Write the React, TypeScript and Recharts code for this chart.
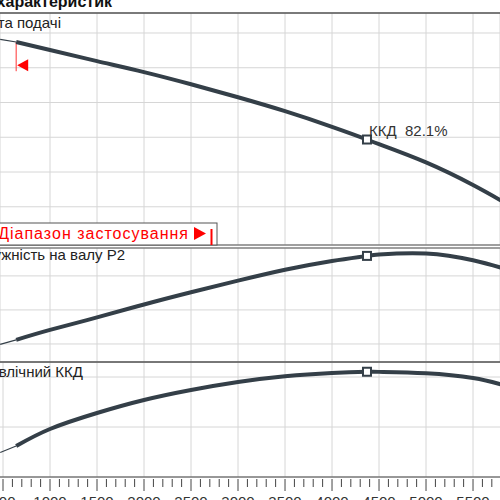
import { LineChart, Line, XAxis, YAxis, CartesianGrid, ReferenceLine, ReferenceDot } from 'recharts';

// flow rate (x)
const flow = [470, 640, 1000, 1500, 2000, 2500, 3000, 3500, 4000, 4372, 4500, 5000, 5500, 5800];
const head = [29.63, 29.48, 29.02, 28.38, 27.75, 27.05, 26.3, 25.5, 24.6, 23.87, 23.6, 22.55, 21.25, 20.35];
const power = [34.95, 35.6, 37.06, 38.9, 40.8, 42.6, 44.3, 45.9, 47.2, 47.94, 48.15, 48.3, 47.3, 46.2];
const efficiency = [49.8, 52.4, 59.2, 65.6, 70.8, 74.8, 78.0, 80.3, 81.6, 82.1, 82.05, 81.5, 79.6, 77.0];

const minFlow = 640;
const bepFlow = 4372;
const bepHead = 23.87;
const bepPower = 47.94;
const bepEff = 82.1;

const flowDomain = [468, 5787];
const majorTicks = [500, 1000, 1500, 2000, 2500, 3000, 3500, 4000, 4500, 5000, 5500];
const minorTicks = Array.from({ length: 53 }, (_, i) => 500 + i * 100);

const headDomain = [17.8, 31.15];
const headTicks = [18, 20, 22, 24, 26, 28, 30];
const powerDomain = [32.35, 49.1];
const powerTicks = [35, 40, 45];
const effDomain = [40, 86];
const effTicks = [60, 80];

const LINE = '#343f48';
const GRID = '#d6d6d6';
const BORDER = '#555';
const FONT = '"Liberation Sans", Arial, sans-serif';

const rows = flow.map((q, i) => ({
  q,
  headThin: q <= minFlow ? head[i] : null,
  head: q >= minFlow ? head[i] : null,
  powerThin: q <= minFlow ? power[i] : null,
  power: q >= minFlow ? power[i] : null,
  effThin: q <= minFlow ? efficiency[i] : null,
  eff: q >= minFlow ? efficiency[i] : null,
}));

const BepMark = (props: any) => (
  <rect x={props.cx - 4} y={props.cy - 4} width={8} height={8} fill="#fff" stroke={LINE} strokeWidth={2} />
);

const BepMarkLabel = (props: any) => (
  <g>
    <rect x={props.cx - 4} y={props.cy - 4} width={8} height={8} fill="#fff" stroke={LINE} strokeWidth={2} />
    <text x={props.cx + 2} y={props.cy - 4} fontSize={15} fill="#333" fontFamily={FONT}>ККД</text>
    <text x={props.cx + 38} y={props.cy - 4} fontSize={15} fill="#333" fontFamily={FONT}>{bepEff}%</text>
  </g>
);

const MinArrow = (props: any) => (
  <polygon points={`${props.cx + 1},${props.cy} ${props.cx + 12},${props.cy - 6} ${props.cx + 12},${props.cy + 6}`} fill="#ff0000" />
);

function FlowTick({ x, y, payload }: any) {
  const v = payload.value;
  const major = v % 500 === 0;
  return (
    <g>
      <line x1={x} x2={x} y1={y} y2={y + (major ? 12 : 8)} stroke="#444" />
      {major && (
        <text x={x} y={y + 28} textAnchor="middle" fontSize={15} fill="#333" fontFamily={FONT}>{v}</text>
      )}
    </g>
  );
}

const box = (top: number): React.CSSProperties => ({ position: 'absolute', left: 0, top });

export default function App() {
  return (
    <div style={{ position: 'absolute', left: 0, top: 0, width: 500, height: 500, overflow: 'hidden', background: '#fff', fontFamily: FONT }}>
      <div style={box(0)}>
        <LineChart width={500} height={246} data={rows} margin={{ top: 13, right: 0, left: 0, bottom: 1 }}>
          <CartesianGrid stroke={GRID} />
          <XAxis dataKey="q" type="number" domain={flowDomain} ticks={majorTicks} allowDataOverflow hide />
          <YAxis domain={headDomain} ticks={headTicks} allowDataOverflow hide />
          <ReferenceLine y={headDomain[1]} stroke={BORDER} strokeWidth={1.5} />
          <ReferenceLine y={headDomain[0]} stroke={BORDER} strokeWidth={1.2} />
          <ReferenceLine segment={[{ x: minFlow, y: 29.48 }, { x: minFlow, y: 27.8 }]} stroke="#ff3333" />
          <ReferenceDot x={minFlow} y={28.15} shape={MinArrow} />
          <Line dataKey="headThin" stroke={LINE} strokeWidth={1.2} dot={false} type="linear" isAnimationActive={false} />
          <Line dataKey="head" stroke={LINE} strokeWidth={4} dot={false} type="natural" isAnimationActive={false} />
          <ReferenceDot x={bepFlow} y={bepHead} shape={BepMarkLabel} />
        </LineChart>
      </div>
      <div style={box(240)}>
        <LineChart width={500} height={130} data={rows} margin={{ top: 8, right: 0, left: 0, bottom: 8 }}>
          <CartesianGrid stroke={GRID} />
          <XAxis dataKey="q" type="number" domain={flowDomain} ticks={majorTicks} allowDataOverflow hide />
          <YAxis domain={powerDomain} ticks={powerTicks} allowDataOverflow hide />
          <ReferenceLine y={powerDomain[1]} stroke={BORDER} strokeWidth={1.2} />
          <Line dataKey="powerThin" stroke={LINE} strokeWidth={1.2} dot={false} type="linear" isAnimationActive={false} />
          <Line dataKey="power" stroke={LINE} strokeWidth={4} dot={false} type="natural" isAnimationActive={false} />
          <ReferenceDot x={bepFlow} y={bepPower} shape={BepMark} />
        </LineChart>
      </div>
      <div style={box(355)}>
        <LineChart width={500} height={145} data={rows} margin={{ top: 7, right: 0, left: 0, bottom: 0 }}>
          <CartesianGrid stroke={GRID} vertical={false} />
          <XAxis dataKey="q" type="number" domain={flowDomain} ticks={minorTicks} interval={0} allowDataOverflow
            height={23} tickSize={0} tickLine={false} tick={FlowTick} axisLine={{ stroke: '#444' }} />
          <YAxis domain={effDomain} ticks={effTicks} allowDataOverflow hide />
          {majorTicks.map(t => <ReferenceLine key={t} x={t} stroke={GRID} />)}
          <ReferenceLine y={effDomain[1]} stroke={BORDER} strokeWidth={1.5} />
          <Line dataKey="effThin" stroke={LINE} strokeWidth={1.2} dot={false} type="linear" isAnimationActive={false} />
          <Line dataKey="eff" stroke={LINE} strokeWidth={4} dot={false} type="natural" isAnimationActive={false} />
          <ReferenceDot x={bepFlow} y={bepEff} shape={BepMark} />
        </LineChart>
      </div>
      <svg width={500} height={500} style={{ position: 'absolute', left: 0, top: 0, pointerEvents: 'none' }} fontFamily={FONT}>
        <text x={112} y={7} textAnchor="end" fontSize={16} fontWeight="bold" fill="#111">характеристик</text>
        <text x={61} y={28} textAnchor="end" fontSize={15} fill="#222">Висота подачі</text>
        <text x={125} y={260} textAnchor="end" fontSize={15} fill="#222">Потужність на валу P2</text>
        <text x={83} y={377} textAnchor="end" fontSize={15} fill="#222">Гідравлічний ККД</text>
        <rect x={-10} y={223} width={227} height={22} fill="#fff" stroke="#555" />
        <text x={189} y={239} textAnchor="end" fontSize={16} letterSpacing={1} fill="#ff0000">Діапазон застосування</text>
        <polygon points="194,227 194,240 206,233.5" fill="#ff0000" />
        <line x1={211.5} x2={211.5} y1={229} y2={245} stroke="#ff0000" strokeWidth={2} />
      </svg>
    </div>
  );
}
